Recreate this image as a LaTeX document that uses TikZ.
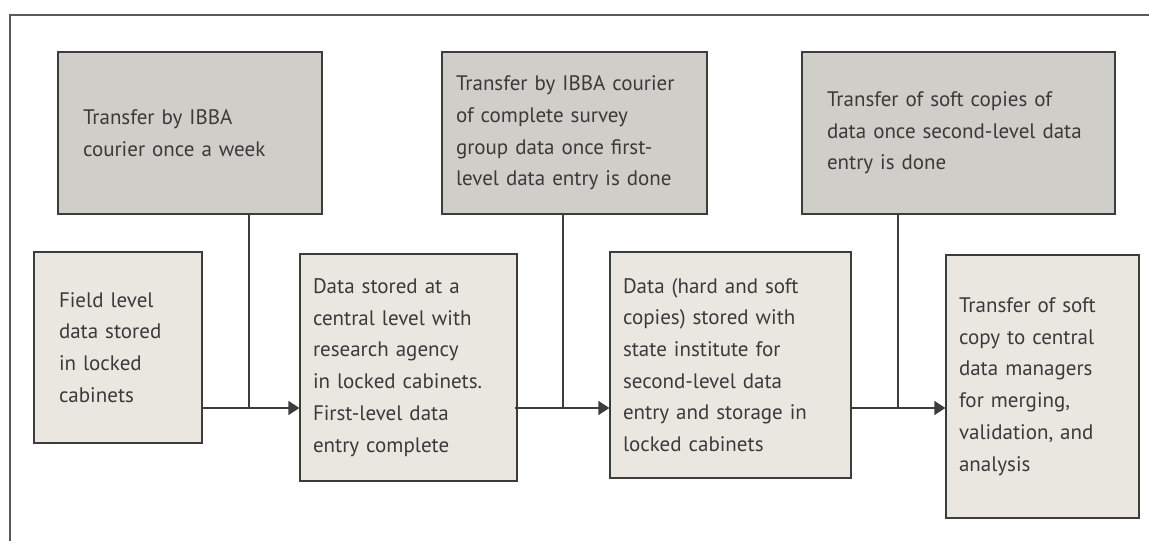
\documentclass[tikz,border=0pt]{standalone}
\usepackage{fontspec}
\setmainfont{PT Sans}
\usetikzlibrary{arrows.meta}
\definecolor{grayfill}{HTML}{D0CEC9}
\definecolor{lightfill}{HTML}{EAE7E0}
\definecolor{edgec}{HTML}{3C3C3C}
\definecolor{txt}{HTML}{3A3A3A}
\definecolor{framec}{HTML}{5A5A5A}
\tikzset{
  box/.style={draw=edgec, line width=1.2pt, rectangle, inner ysep=0pt, align=left,
    text=txt, font=\fontsize{21}{31.7}\selectfont, anchor=center},
  graybox/.style={box, fill=grayfill},
  lightbox/.style={box, fill=lightfill},
  link/.style={draw=edgec, line width=1.3pt},
  flow/.style={link, -{Triangle[length=11pt,width=14pt]}},
  framestyle/.style={draw=framec, line width=1.6pt}
}
\begin{document}
\begin{tikzpicture}[x=1pt,y=-1pt]
\useasboundingbox (0,0) rectangle (1149,541);
\draw[framestyle] (10,545) -- (10,15) -- (1152,15);

\node[graybox, text width=214pt, inner xsep=25pt, minimum height=162pt] (G1) at (190,133)
  {Transfer by IBBA\\courier once a week};
\node[graybox, text width=237pt, inner xsep=14pt, minimum height=162pt] (G2) at (574.5,133)
  {Transfer by IBBA courier\\of complete survey\\group data once first-\\level data entry is done};
\node[graybox, text width=263pt, inner xsep=25pt, minimum height=162pt] (G3) at (958.5,133)
  {Transfer of soft copies of\\data once second-level data\\entry is done};

\node[lightbox, text width=118pt, inner xsep=25pt, minimum height=191pt] (L1) at (118,347.5)
  {Field level\\data stored\\in locked\\cabinets};
\node[lightbox, text width=191pt, inner xsep=13pt, minimum height=227pt] (L2) at (408.5,367.5)
  {Data stored at a\\central level with\\research agency\\in locked cabinets.\\First-level data\\entry complete};
\node[lightbox, text width=215pt, inner xsep=13pt, minimum height=226pt] (L3) at (730.5,365)
  {Data (hard and soft\\copies) stored with\\state institute for\\second-level data\\entry and storage in\\locked cabinets};
\node[lightbox, text width=167pt, inner xsep=13pt, minimum height=263pt] (L4) at (1042.5,386.5)
  {Transfer of soft\\copy to central\\data managers\\for merging,\\validation, and\\analysis};

\coordinate (j1) at (249,408);
\coordinate (j2) at (563,408);
\coordinate (j3) at (898,408);

\draw[flow] (L1.east |- j1) -- (L2.west |- j1);
\draw[flow] ([xshift=-3pt]L2.east |- j2) -- (L3.west |- j2);
\draw[flow] (L3.east |- j3) -- (L4.west |- j3);

\draw[link] (G1.south -| j1) -- (j1);
\draw[link] (G2.south -| j2) -- (j2);
\draw[link] (G3.south -| j3) -- (j3);
\end{tikzpicture}
\end{document}
